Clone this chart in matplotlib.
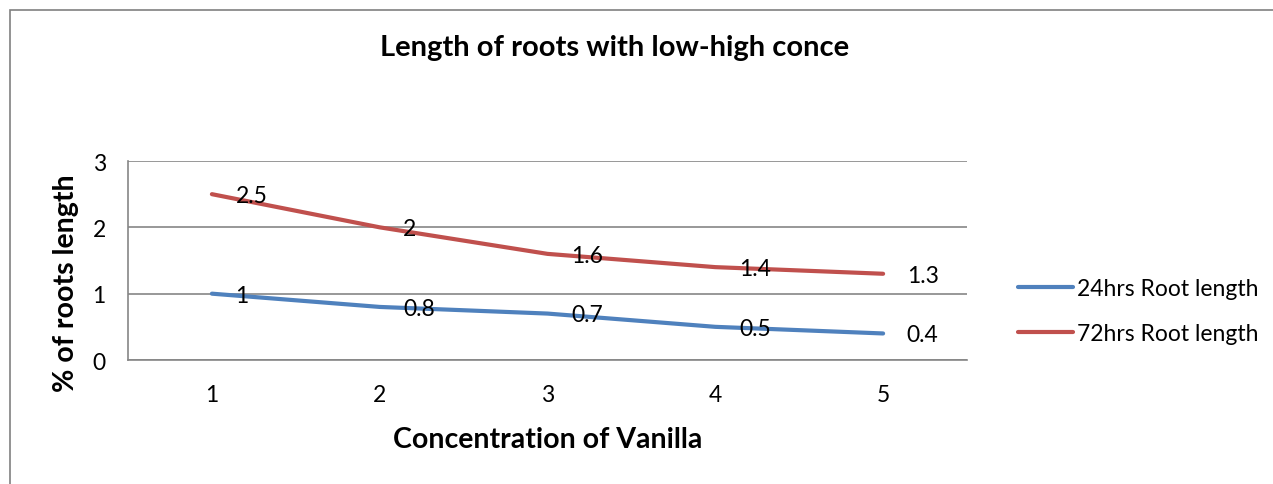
import matplotlib
matplotlib.use("Agg")
import matplotlib.pyplot as plt
from matplotlib.patches import Rectangle

plt.rcParams['font.family'] = ['Lato', 'DejaVu Sans']

categories = [1, 2, 3, 4, 5]
root_24h = [1, 0.8, 0.7, 0.5, 0.4]
root_72h = [2.5, 2, 1.6, 1.4, 1.3]
series_names = ["24hrs Root length", "72hrs Root length"]
y_ticks = [0, 1, 2, 3]

W, H = 1273, 485
fig = plt.figure(figsize=(W / 100, H / 100), dpi=100)

# outer chart border (cut off on right/bottom as in the source)
fig.patches.append(Rectangle((10 / W, -0.1), 1.2, 1 - 11 / H + 0.1,
                             transform=fig.transFigure, fill=False,
                             edgecolor="#808080", lw=1.2))

ax = fig.add_axes([128 / W, 1 - 361 / H, (967 - 128) / W, (361 - 162) / H])
x = list(range(len(categories)))
colors = ["#4F81BD", "#C0504D"]
for vals, name, c in zip([root_24h, root_72h], series_names, colors):
    ax.plot(x, vals, color=c, lw=3, solid_capstyle="round", label=name, zorder=3)
    for xi, v in zip(x, vals):
        ax.annotate(f"{v:g}", (xi, v), xytext=(17, -1), textcoords="offset points",
                    ha="left", va="center", fontsize=16.5, color="black", zorder=4)

ax.set_xlim(-0.5, len(categories) - 0.5)
ax.set_ylim(0, 3)
ax.set_xticks(x)
ax.set_xticklabels([str(c) for c in categories])
ax.set_yticks(y_ticks)
ax.tick_params(length=0, labelsize=16.5)
ax.tick_params(axis="y", pad=16)
ax.tick_params(axis="x", pad=17)
ax.grid(axis="y", color="#868686", lw=1.2)
ax.set_axisbelow(True)
for s in ["top", "right"]:
    ax.spines[s].set_visible(False)
for s in ["left", "bottom"]:
    ax.spines[s].set_color("#868686")
    ax.spines[s].set_linewidth(1.2)

fig.text(615 / W, 1 - 48 / H, "Length of roots with low-high conce", ha="center", va="center",
         fontsize=21, fontweight="bold")
fig.text(66 / W, 1 - 283 / H, "% of roots length", ha="center", va="center", rotation=90,
         fontsize=20.5, fontweight="bold")
fig.text(548 / W, 1 - 440 / H, "Concentration of Vanilla", ha="center", va="center",
         fontsize=20.5, fontweight="bold")

ax.legend(loc="center left", bbox_to_anchor=(997 / W, 1 - 312 / H), bbox_transform=fig.transFigure,
          frameon=False, fontsize=16.5, handlelength=2.4, handletextpad=0.2, labelspacing=1.05)

fig.savefig("out.png", dpi=100)
